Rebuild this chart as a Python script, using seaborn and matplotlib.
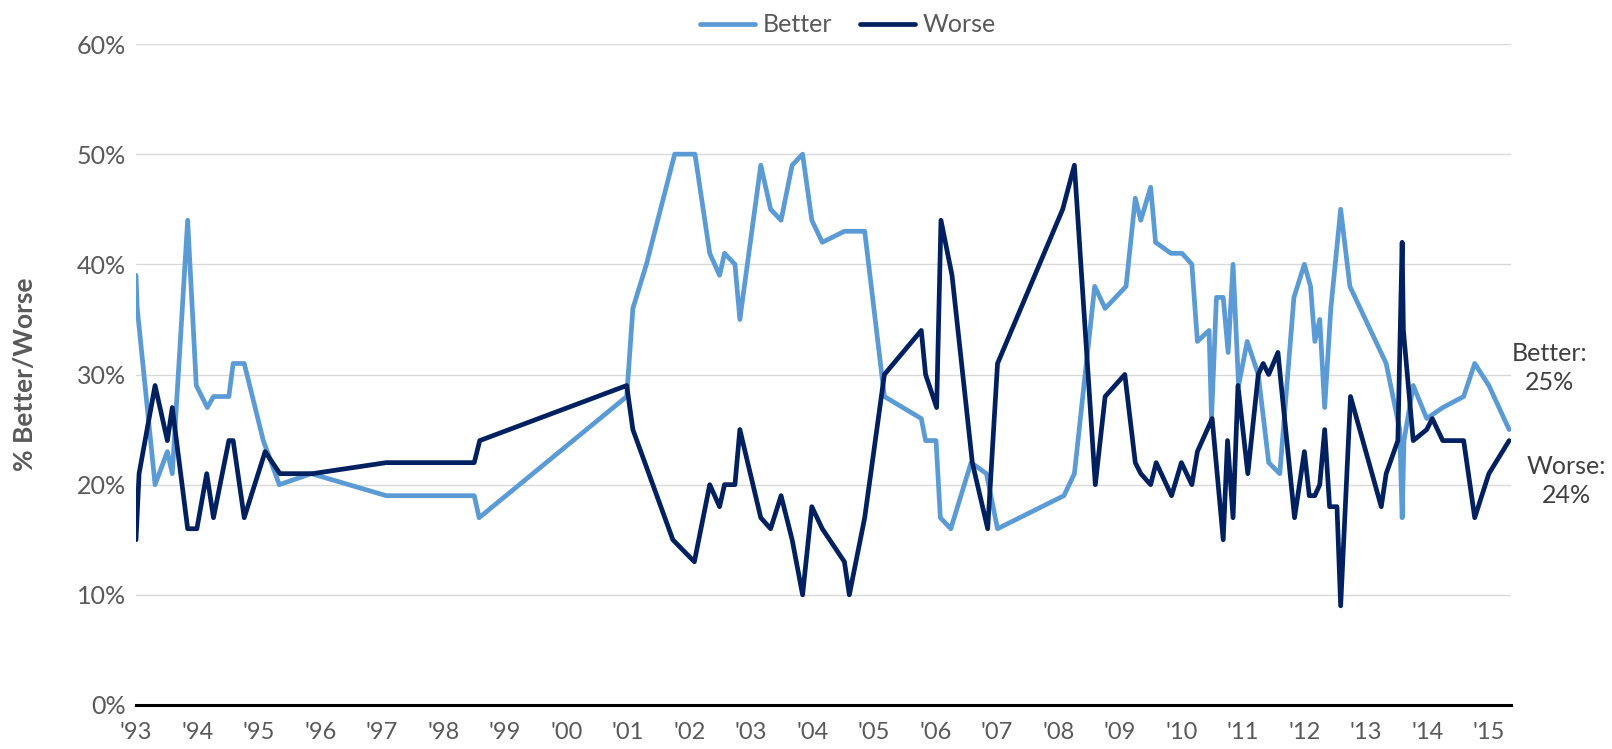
import pandas as pd
import matplotlib
matplotlib.use("Agg")
import matplotlib.pyplot as plt
import seaborn as sns

# --- Data ---
better_dates = [1993.00, 1993.02, 1993.31, 1993.51, 1993.59, 1993.84, 1993.98, 1994.16, 1994.26, 1994.51,
                1994.58, 1994.76, 1995.07, 1995.33, 1995.85, 1997.07, 1998.50, 1998.58, 2000.98, 2001.08,
                2001.30, 2001.76, 2002.09, 2002.33, 2002.49, 2002.57, 2002.74, 2002.82, 2003.16, 2003.32,
                2003.49, 2003.67, 2003.84, 2003.99, 2004.16, 2004.52, 2004.85, 2005.17, 2005.77, 2005.84,
                2006.01, 2006.08, 2006.25, 2006.58, 2006.83, 2007.01, 2008.09, 2008.26, 2008.59, 2008.76,
                2009.10, 2009.25, 2009.34, 2009.50, 2009.58, 2009.83, 2010.01, 2010.17, 2010.26, 2010.45,
                2010.49, 2010.57, 2010.68, 2010.76, 2010.84, 2010.93, 2011.07, 2011.25, 2011.42, 2011.60,
                2011.83, 2012.00, 2012.10, 2012.17, 2012.25, 2012.33, 2012.43, 2012.59, 2012.74, 2013.33,
                2013.55, 2013.59, 2013.62, 2013.77, 2013.99, 2014.25, 2014.59, 2014.77, 2015.00, 2015.33]
better_vals = [39, 36, 20, 23, 21, 44, 29, 27, 28, 28,
               31, 31, 24, 20, 21, 19, 19, 17, 28, 36,
               40, 50, 50, 41, 39, 41, 40, 35, 49, 45,
               44, 49, 50, 44, 42, 43, 43, 28, 26, 24,
               24, 17, 16, 22, 21, 16, 19, 21, 38, 36,
               38, 46, 44, 47, 42, 41, 41, 40, 33, 34,
               26, 37, 37, 32, 40, 29, 33, 30, 22, 21,
               37, 40, 38, 33, 35, 27, 36, 45, 38, 31,
               25, 17, 24, 29, 26, 27, 28, 31, 29, 25]

worse_dates = [1993.00, 1993.05, 1993.31, 1993.51, 1993.59, 1993.84, 1993.99, 1994.15, 1994.26, 1994.51,
               1994.58, 1994.76, 1995.10, 1995.34, 1995.87, 1997.07, 1998.50, 1998.59, 2000.98, 2001.08,
               2001.73, 2002.08, 2002.33, 2002.49, 2002.57, 2002.74, 2002.82, 2003.16, 2003.32, 2003.49,
               2003.67, 2003.84, 2003.99, 2004.16, 2004.52, 2004.60, 2004.85, 2005.17, 2005.77, 2005.84,
               2006.02, 2006.09, 2006.27, 2006.60, 2006.85, 2007.01, 2008.07, 2008.26, 2008.60, 2008.76,
               2009.08, 2009.25, 2009.34, 2009.50, 2009.59, 2009.84, 2010.00, 2010.17, 2010.26, 2010.50,
               2010.68, 2010.75, 2010.84, 2010.92, 2011.08, 2011.25, 2011.33, 2011.42, 2011.57, 2011.84,
               2012.00, 2012.08, 2012.17, 2012.25, 2012.33, 2012.41, 2012.53, 2012.59, 2012.75, 2013.25,
               2013.33, 2013.52, 2013.59, 2013.61, 2013.77, 2013.99, 2014.08, 2014.25, 2014.59, 2014.77,
               2015.00, 2015.33]
worse_vals = [15, 21, 29, 24, 27, 16, 16, 21, 17, 24,
              24, 17, 23, 21, 21, 22, 22, 24, 29, 25,
              15, 13, 20, 18, 20, 20, 25, 17, 16, 19,
              15, 10, 18, 16, 13, 10, 17, 30, 34, 30,
              27, 44, 39, 22, 16, 31, 45, 49, 20, 28,
              30, 22, 21, 20, 22, 19, 22, 20, 23, 26,
              15, 24, 17, 29, 21, 30, 31, 30, 32, 17,
              23, 19, 19, 20, 25, 18, 18, 9, 28, 18,
              21, 24, 42, 34, 24, 25, 26, 24, 24, 17,
              21, 24]

year_ticks = list(range(1993, 2016))
year_labels = ["'" + str(y)[2:] for y in year_ticks]
pct_ticks = [0, 10, 20, 30, 40, 50, 60]

series_colors = {"Better": "#5B9BD5", "Worse": "#002060"}

# --- Long-form table for seaborn ---
df = pd.concat([
    pd.DataFrame({"date": better_dates, "pct": better_vals, "series": "Better"}),
    pd.DataFrame({"date": worse_dates, "pct": worse_vals, "series": "Worse"}),
], ignore_index=True)

sns.set_style("white")
plt.rcParams["font.family"] = ["Lato", "DejaVu Sans"]

fig = plt.figure(figsize=(16.12, 7.49), dpi=100)
ax = fig.add_axes([136 / 1612, 1 - 705 / 749, 1375 / 1612, 661 / 749])

sns.lineplot(data=df, x="date", y="pct", hue="series", palette=series_colors,
             sort=False, estimator=None, linewidth=3.4, ax=ax, legend=True)

ax.set_xlim(1993, 2015.36)
ax.set_ylim(0, 60)
ax.set_xticks(year_ticks)
ax.set_xticklabels(year_labels)
ax.set_yticks(pct_ticks)
ax.set_yticklabels([f"{p}%" for p in pct_ticks])
ax.yaxis.grid(True, color="#D9D9D9", linewidth=1)
ax.set_axisbelow(True)

for s in ["top", "right", "left"]:
    ax.spines[s].set_visible(False)
ax.spines["bottom"].set_linewidth(2.2)
ax.spines["bottom"].set_color("black")

ax.tick_params(axis="x", direction="in", length=6, width=1, color="black",
               pad=12, labelsize=17, labelcolor="#595959")
ax.tick_params(axis="y", length=0, pad=7, labelsize=18, labelcolor="#595959")

ax.set_xlabel("")
ax.set_ylabel("% Better/Worse", fontsize=19, fontweight="bold", color="#595959")
ax.yaxis.label.set_va("center")
ax.yaxis.set_label_coords(-0.081, 0.5)

# --- Legend on top ---
handles, labels = ax.get_legend_handles_labels()
for h in handles:
    h.set_linewidth(3.4)
ax.legend(handles, labels, loc="center", bbox_to_anchor=(848 / 1612, 1 - 25 / 749),
          bbox_transform=fig.transFigure, ncol=2, frameon=False, fontsize=18,
          handlelength=2.2, handletextpad=0.3, columnspacing=1.1, labelcolor="#595959")

# --- End labels ---
fig.text(1550 / 1612, 1 - 368 / 749, "Better:\n25%", ha="center", va="center",
         fontsize=18, color="#404040", linespacing=1.3)
fig.text(1566 / 1612, 1 - 481 / 749, "Worse:\n24%", ha="center", va="center",
         fontsize=18, color="#404040", linespacing=1.3)

fig.savefig("out.png", dpi=100)
plt.close(fig)
